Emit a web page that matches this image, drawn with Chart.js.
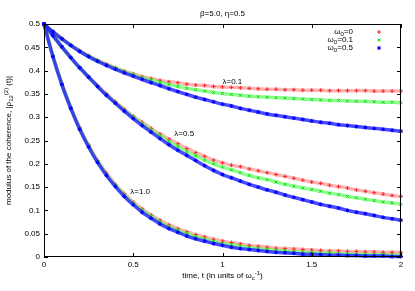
<!DOCTYPE html>
<html>
<head>
<meta charset="utf-8">
<script src="https://cdn.jsdelivr.net/npm/chart.js@4.4.1/dist/chart.umd.min.js"></script>
<style>
  html, body { margin: 0; padding: 0; background: #fff; }
  canvas { display: block; }
</style>
</head>
<body>
<canvas id="coherence" width="415" height="291"></canvas>
<script>
// time axis (units of 1/omega_c)
const times = [0, 0.05, 0.1, 0.15, 0.2, 0.25, 0.3, 0.35, 0.4, 0.45, 0.5, 0.55, 0.6, 0.65, 0.7, 0.75, 0.8, 0.85, 0.9, 0.95,
  1, 1.05, 1.1, 1.15, 1.2, 1.25, 1.3, 1.35, 1.4, 1.45, 1.5, 1.55, 1.6, 1.65, 1.7, 1.75, 1.8, 1.85, 1.9, 1.95, 2];

// lambda = 0.1
const red01 = [0.5, 0.484, 0.469, 0.455, 0.443, 0.432, 0.422, 0.414, 0.406, 0.399, 0.393, 0.387, 0.383, 0.379, 0.376, 0.374, 0.371, 0.369, 0.368, 0.366,
  0.365, 0.364, 0.363, 0.362, 0.361, 0.360, 0.360, 0.359, 0.359, 0.358, 0.358, 0.358, 0.357, 0.357, 0.357, 0.357, 0.357, 0.356, 0.356, 0.356, 0.356];
const green01 = [0.5, 0.483, 0.468, 0.455, 0.442, 0.431, 0.421, 0.413, 0.405, 0.398, 0.391, 0.385, 0.380, 0.375, 0.370, 0.366, 0.362, 0.359, 0.356, 0.353,
  0.351, 0.349, 0.347, 0.345, 0.344, 0.343, 0.342, 0.341, 0.340, 0.339, 0.338, 0.337, 0.336, 0.336, 0.335, 0.334, 0.334, 0.333, 0.332, 0.332, 0.331];
const blue01 = [0.5, 0.483, 0.468, 0.454, 0.441, 0.430, 0.420, 0.411, 0.403, 0.395, 0.388, 0.381, 0.374, 0.368, 0.361, 0.355, 0.349, 0.343, 0.338, 0.333,
  0.328, 0.324, 0.319, 0.315, 0.311, 0.307, 0.304, 0.301, 0.298, 0.295, 0.292, 0.289, 0.287, 0.284, 0.282, 0.280, 0.278, 0.276, 0.274, 0.272, 0.270];

// lambda = 0.5
const red05 = [0.5, 0.475, 0.451, 0.428, 0.407, 0.387, 0.368, 0.350, 0.333, 0.317, 0.302, 0.289, 0.276, 0.264, 0.253, 0.243, 0.233, 0.224, 0.216, 0.208,
  0.202, 0.197, 0.194, 0.189, 0.185, 0.181, 0.177, 0.173, 0.169, 0.165, 0.161, 0.158, 0.154, 0.151, 0.148, 0.144, 0.141, 0.138, 0.135, 0.132, 0.130];
const green05 = [0.5, 0.475, 0.451, 0.428, 0.406, 0.386, 0.366, 0.348, 0.331, 0.315, 0.300, 0.286, 0.272, 0.260, 0.248, 0.237, 0.226, 0.217, 0.208, 0.200,
  0.193, 0.187, 0.181, 0.175, 0.170, 0.166, 0.161, 0.156, 0.152, 0.148, 0.145, 0.141, 0.137, 0.134, 0.130, 0.127, 0.124, 0.121, 0.118, 0.116, 0.113];
const blue05 = [0.5, 0.475, 0.451, 0.428, 0.406, 0.386, 0.366, 0.347, 0.330, 0.313, 0.297, 0.282, 0.268, 0.254, 0.241, 0.229, 0.218, 0.207, 0.196, 0.186,
  0.177, 0.170, 0.163, 0.156, 0.150, 0.144, 0.139, 0.133, 0.128, 0.123, 0.118, 0.113, 0.109, 0.105, 0.100, 0.096, 0.093, 0.089, 0.085, 0.082, 0.079];

// lambda = 1.0
const red10 = [0.5, 0.431, 0.372, 0.321, 0.277, 0.240, 0.207, 0.180, 0.156, 0.136, 0.118, 0.103, 0.090, 0.079, 0.069, 0.061, 0.054, 0.048, 0.043, 0.038,
  0.034, 0.031, 0.028, 0.025, 0.023, 0.021, 0.019, 0.018, 0.017, 0.016, 0.015, 0.014, 0.013, 0.013, 0.012, 0.012, 0.011, 0.011, 0.010, 0.010, 0.010];
const green10 = [0.5, 0.431, 0.371, 0.320, 0.276, 0.238, 0.205, 0.177, 0.153, 0.133, 0.115, 0.100, 0.087, 0.075, 0.065, 0.057, 0.050, 0.043, 0.038, 0.033,
  0.029, 0.026, 0.023, 0.020, 0.018, 0.016, 0.014, 0.013, 0.011, 0.010, 0.009, 0.008, 0.008, 0.007, 0.006, 0.006, 0.005, 0.005, 0.005, 0.004, 0.004];
const blue10 = [0.5, 0.430, 0.370, 0.319, 0.274, 0.236, 0.203, 0.175, 0.151, 0.130, 0.112, 0.096, 0.083, 0.071, 0.061, 0.053, 0.045, 0.039, 0.034, 0.029,
  0.025, 0.021, 0.018, 0.016, 0.014, 0.012, 0.010, 0.009, 0.008, 0.006, 0.006, 0.005, 0.004, 0.004, 0.003, 0.003, 0.002, 0.002, 0.002, 0.001, 0.001];

const legendLabels = ['0', '0.1', '0.5'];
const curveLabels = [
  { text: '\u03bb=0.1', t: 1.0, v: 0.376 },
  { text: '\u03bb=0.5', t: 0.73, v: 0.264 },
  { text: '\u03bb=1.0', t: 0.483, v: 0.14 }
];

const FONT_FAMILY = '"Liberation Sans", Arial, sans-serif';
const FONT = '8px ' + FONT_FAMILY;
const SMALL = '6px ' + FONT_FAMILY;

const styles = {
  red:   { line: 'rgba(255,90,90,0.45)', point: '#ff2020', shape: 'cross', order: 3 },
  green: { line: 'rgba(70,255,70,0.6)', point: '#00e000', shape: 'crossRot', order: 2 },
  blue:  { line: 'rgba(30,30,255,0.8)', point: '#0000ff', shape: 'star', order: 1 }
};

function series(values) {
  return values.map((v, i) => ({ x: times[i], y: v }));
}

function makeSet(values, colour) {
  const s = styles[colour];
  return {
    data: series(values),
    borderColor: s.line,
    borderWidth: 3.5,
    pointStyle: s.shape,
    pointRadius: 2,
    pointBorderColor: s.point,
    pointBorderWidth: 1,
    pointBackgroundColor: s.point,
    tension: 0.3,
    clip: false,
    order: s.order
  };
}

// text with sub/superscripts: parts = [[text, kind], ...]
function richWidth(ctx, parts) {
  let w = 0;
  parts.forEach(([txt, kind]) => {
    ctx.font = kind ? SMALL : FONT;
    w += ctx.measureText(txt).width;
  });
  return w;
}

function drawRich(ctx, parts, x, y, align) {
  const w = richWidth(ctx, parts);
  let cx = align === 'right' ? x - w : align === 'center' ? x - w / 2 : x;
  ctx.textAlign = 'left';
  ctx.textBaseline = 'middle';
  parts.forEach(([txt, kind]) => {
    ctx.font = kind ? SMALL : FONT;
    const dy = kind === 'sub' ? 2.5 : kind === 'sup' ? -3 : 0;
    ctx.fillText(txt, cx, y + dy);
    cx += ctx.measureText(txt).width;
  });
}

const decorations = {
  id: 'decorations',
  afterDraw(chart) {
    const ctx = chart.ctx;
    const a = chart.chartArea;
    const xs = chart.scales.x, ys = chart.scales.y;
    ctx.save();

    // frame
    ctx.strokeStyle = '#000';
    ctx.lineWidth = 1;
    ctx.strokeRect(Math.round(a.left) + 0.5, Math.round(a.top) + 0.5,
      Math.round(a.right - a.left) - 1, Math.round(a.bottom - a.top) - 1);

    // inward ticks
    ctx.beginPath();
    ys.ticks.forEach(t => {
      const py = Math.round(ys.getPixelForValue(t.value)) + 0.5;
      ctx.moveTo(a.left, py); ctx.lineTo(a.left + 4, py);
      ctx.moveTo(a.right, py); ctx.lineTo(a.right - 4, py);
    });
    xs.ticks.forEach(t => {
      const px = Math.round(xs.getPixelForValue(t.value)) + 0.5;
      ctx.moveTo(px, a.bottom); ctx.lineTo(px, a.bottom - 4);
      ctx.moveTo(px, a.top); ctx.lineTo(px, a.top + 4);
    });
    ctx.stroke();

    ctx.fillStyle = '#000';
    // title
    ctx.font = FONT;
    ctx.textAlign = 'center';
    ctx.textBaseline = 'middle';
    ctx.fillText('\u03b2=5.0, \u03b7=0.5', (a.left + a.right) / 2, 14);

    // curve labels
    curveLabels.forEach(l => {
      ctx.font = FONT;
      ctx.textAlign = 'left';
      ctx.fillText(l.text, xs.getPixelForValue(l.t), ys.getPixelForValue(l.v));
    });

    // legend
    const colours = ['red', 'green', 'blue'];
    legendLabels.forEach((lab, i) => {
      const y = 32 + i * 8;
      ctx.fillStyle = '#000';
      drawRich(ctx, [['\u03c9', ''], ['0', 'sub'], ['=' + lab, '']], 353, y, 'right');
      const s = styles[colours[i]];
      ctx.strokeStyle = s.point;
      ctx.fillStyle = s.point;
      ctx.lineWidth = 1;
      Chart.helpers.drawPoint(ctx, { pointStyle: s.shape, radius: 2, borderWidth: 1 }, 379, y);
    });
    ctx.fillStyle = '#000';
    ctx.strokeStyle = '#000';

    // x axis title
    drawRich(ctx, [['time, t (in units of \u03c9', ''], ['c', 'sub'], ['-1', 'sup'], [')', '']],
      (a.left + a.right) / 2, 276, 'center');

    // y axis title
    ctx.translate(9, (a.top + a.bottom) / 2);
    ctx.rotate(-Math.PI / 2);
    drawRich(ctx, [['modulus of the coherence, |\u03c1', ''], ['12', 'sub'], ['(2)', 'sup'], [' (t)|', '']],
      0, 0, 'center');

    ctx.restore();
  }
};

new Chart(document.getElementById('coherence'), {
  type: 'line',
  data: {
    datasets: [
      makeSet(red01, 'red'), makeSet(green01, 'green'), makeSet(blue01, 'blue'),
      makeSet(red05, 'red'), makeSet(green05, 'green'), makeSet(blue05, 'blue'),
      makeSet(red10, 'red'), makeSet(green10, 'green'), makeSet(blue10, 'blue')
    ]
  },
  options: {
    responsive: false,
    animation: false,
    layout: { padding: { top: 24, right: 14, left: 0, bottom: 0 } },
    plugins: { legend: { display: false }, tooltip: { enabled: false } },
    scales: {
      x: {
        type: 'linear', min: 0, max: 2,
        ticks: { stepSize: 0.5, font: { size: 8, family: FONT_FAMILY }, color: '#000', padding: 3, maxRotation: 0,
          callback: v => String(Number(v.toFixed(2))) },
        grid: { display: false, drawTicks: false },
        border: { display: false },
        afterFit: s => { s.height = 34; }
      },
      y: {
        min: 0, max: 0.5,
        ticks: { stepSize: 0.05, font: { size: 8, family: FONT_FAMILY }, color: '#000', padding: 4,
          callback: v => String(Number(v.toFixed(2))) },
        grid: { display: false, drawTicks: false },
        border: { display: false },
        afterFit: s => { s.width = 44; }
      }
    }
  },
  plugins: [decorations]
});
</script>
</body>
</html>
